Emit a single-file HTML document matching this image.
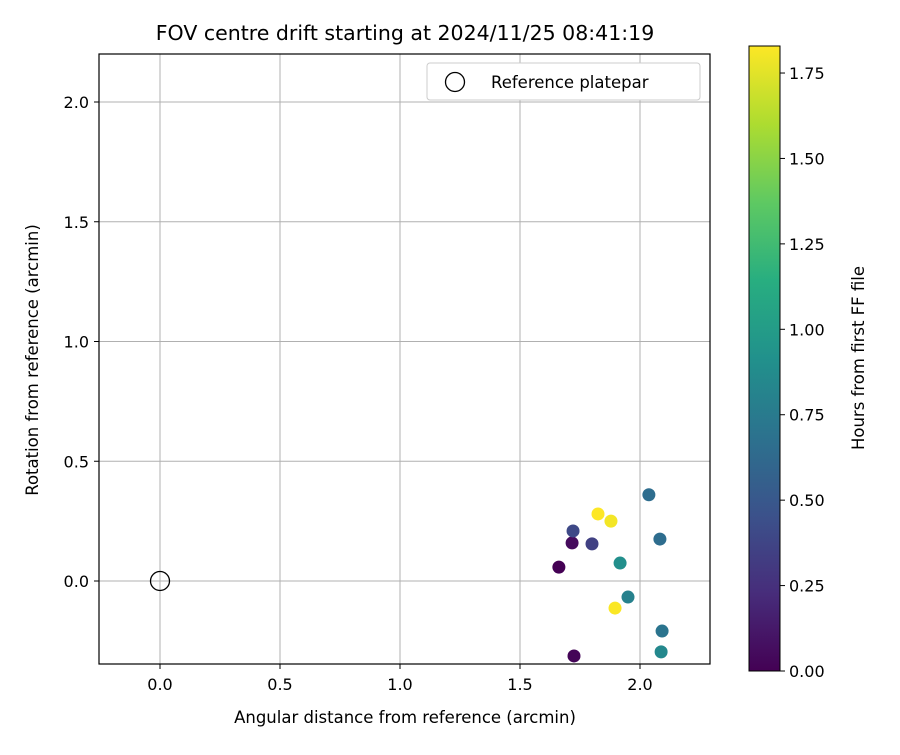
<!DOCTYPE html>
<html><head><meta charset="utf-8"><style>
body{margin:0;background:#fff;}
svg text{font-family:"DejaVu Sans","Liberation Sans",sans-serif;fill:#000;}
</style></head><body>
<svg id="chart" width="900" height="750" viewBox="0 0 900 750" xmlns="http://www.w3.org/2000/svg">
<defs>
<linearGradient id="vir" x1="0" y1="1" x2="0" y2="0">
<stop offset="0" stop-color="#440154"/><stop offset="0.125" stop-color="#472d7b"/><stop offset="0.25" stop-color="#3b528b"/><stop offset="0.375" stop-color="#2c728e"/><stop offset="0.5" stop-color="#21918c"/><stop offset="0.625" stop-color="#28ae80"/><stop offset="0.75" stop-color="#5ec962"/><stop offset="0.875" stop-color="#addc30"/><stop offset="1" stop-color="#fde725"/>
</linearGradient>
</defs>
<rect x="0" y="0" width="900" height="750" fill="#fff"/>
<text x="405" y="40" font-size="20.5" text-anchor="middle">FOV centre drift starting at 2024/11/25 08:41:19</text>
<g id="grid"></g>
<g id="xticks"></g>
<g id="yticks"></g>
<g id="points"></g>
<rect x="99" y="54" width="611" height="610" fill="none" stroke="#000" stroke-width="1.2"/>
<text x="405" y="723" font-size="16.5" text-anchor="middle">Angular distance from reference (arcmin)</text>
<text transform="translate(38,360) rotate(-90)" font-size="16.5" text-anchor="middle">Rotation from reference (arcmin)</text>
<g>
<rect x="427" y="63" width="273" height="37" rx="3" fill="#fff" stroke="#ccc"/>
<circle cx="455" cy="82" r="9.5" fill="none" stroke="#000" stroke-width="1.3"/>
<text x="491" y="88" font-size="16.5">Reference platepar</text>
</g>
<rect x="749" y="46" width="31" height="625" fill="url(#vir)" stroke="#000" stroke-width="1"/>
<g id="cticks"></g>
<text transform="translate(864,358) rotate(-90)" font-size="16.5" text-anchor="middle">Hours from first FF file</text>
</svg>
<script>
const xs=[1.662,1.717,1.721,1.80,1.825,1.879,1.896,1.917,1.95,2.037,2.083,2.092,2.088,1.725];
const ys=[0.058,0.159,0.209,0.155,0.28,0.25,-0.113,0.075,-0.067,0.36,0.175,-0.209,-0.296,-0.313];
const hours=[0.0,0.05,0.4,0.35,1.83,1.8,1.82,0.9,0.8,0.65,0.65,0.7,0.85,0.02];
const xTicks=[0,0.5,1.0,1.5,2.0];
const yTicks=[0,0.5,1.0,1.5,2.0];
const cTicks=[0,0.25,0.5,0.75,1.0,1.25,1.5,1.75];
const X=v=>160+v*240, Y=v=>581-v*239.5, C=v=>671-v*341.7, CMAX=1.829;
const NS='http://www.w3.org/2000/svg';
function mk(t,a,p){const e=document.createElementNS(NS,t);for(const k in a)e.setAttribute(k,a[k]);p.appendChild(e);return e;}
const vir=['#440154','#472d7b','#3b528b','#2c728e','#21918c','#28ae80','#5ec962','#addc30','#fde725'];
function hex(h){return [1,3,5].map(i=>parseInt(h.substr(i,2),16));}
function cmap(v){let t=Math.max(0,Math.min(1,v/CMAX))*8;let i=Math.min(7,Math.floor(t));let f=t-i;const a=hex(vir[i]),b=hex(vir[i+1]);return 'rgb('+a.map((c,k)=>Math.round(c+(b[k]-c)*f)).join(',')+')';}
const g=document.getElementById('grid'),gx=document.getElementById('xticks'),gy=document.getElementById('yticks'),gp=document.getElementById('points'),gc=document.getElementById('cticks');
xTicks.forEach(v=>{
const l=mk('line',{x1:X(v),x2:X(v),y1:54,y2:664,stroke:'#b0b0b0','stroke-width':1},g);


const t=mk('line',{x1:X(v),x2:X(v),y1:664,y2:669,stroke:'#000'},gx);


const s=mk('text',{x:X(v),y:690,'font-size':16,'text-anchor':'middle'},gx);s.textContent=v.toFixed(1);


});
yTicks.forEach(v=>{
const l=mk('line',{x1:99,x2:710,y1:Y(v),y2:Y(v),stroke:'#b0b0b0','stroke-width':1},g);


const t=mk('line',{x1:94,x2:99,y1:Y(v),y2:Y(v),stroke:'#000'},gy);


const s=mk('text',{x:89,y:Y(v)+6,'font-size':16,'text-anchor':'end'},gy);s.textContent=v.toFixed(1);


});
const ref=mk('circle',{cx:X(0),cy:Y(0),r:9.5,fill:'none',stroke:'#000','stroke-width':1.3},gp);


xs.forEach((v,i)=>{
const c=mk('circle',{cx:X(v),cy:Y(ys[i]),r:6.5,fill:cmap(hours[i])},gp);


});
cTicks.forEach(v=>{
const t=mk('line',{x1:780,x2:785,y1:C(v),y2:C(v),stroke:'#000'},gc);


const s=mk('text',{x:789,y:C(v)+6,'font-size':16},gc);s.textContent=v.toFixed(2);


});
</script>
</body></html>
